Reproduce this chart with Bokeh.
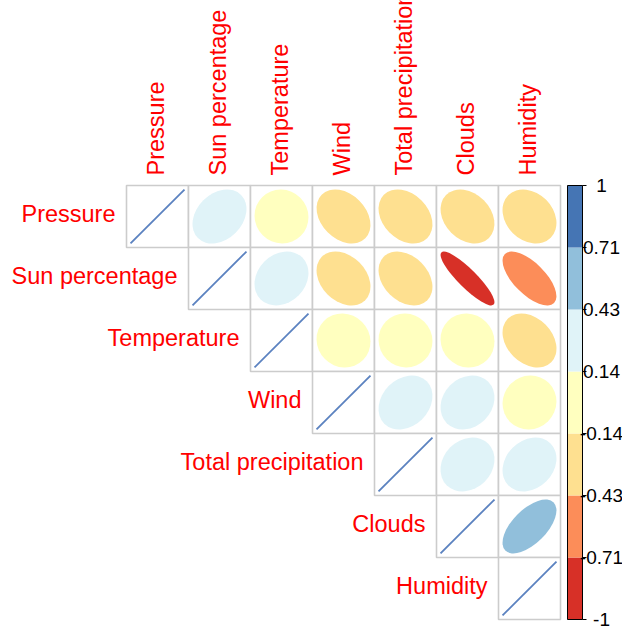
import numpy as np
from bokeh.plotting import figure
from bokeh.models import Range1d
from bokeh.embed import file_html
from bokeh.resources import INLINE
from bokeh.core.properties import value

# Weather variables and their correlation matrix (upper triangle used)
variables = ["Pressure", "Sun percentage", "Temperature", "Wind",
             "Total precipitation", "Clouds", "Humidity"]

pressure_r = [1.00, 0.28, -0.03, -0.31, -0.29, -0.27, -0.24]
sun_r = [0.28, 1.00, 0.20, -0.30, -0.31, -0.88, -0.66]
temperature_r = [-0.03, 0.20, 1.00, -0.05, -0.03, -0.05, -0.30]
wind_r = [-0.31, -0.30, -0.05, 1.00, 0.24, 0.18, 0.04]
precip_r = [-0.29, -0.31, -0.03, 0.24, 1.00, 0.19, 0.22]
clouds_r = [-0.27, -0.88, -0.05, 0.18, 0.19, 1.00, 0.60]
humidity_r = [-0.24, -0.66, -0.30, 0.04, 0.22, 0.60, 1.00]

corr = np.array([pressure_r, sun_r, temperature_r, wind_r,
                 precip_r, clouds_r, humidity_r])

# Diverging palette (RdYlBu, 7 classes) from -1 to 1
palette = ["#d73027", "#fc8d59", "#fee090", "#ffffbf",
           "#e0f3f8", "#91bfdb", "#4575b4"]
legend_labels = ["1", "0.71", "0.43", "0.14", "-0.14", "-0.43", "-0.71", "-1"]

n = len(variables)
cell_px = 62.0
left_px, top_px = 126.0, 185.0
W, H = 622, 626
label_font = "23.5px"


def color_for(r):
    k = int(np.floor((r + 1) / 2 * len(palette)))
    return palette[min(max(k, 0), len(palette) - 1)]


p = figure(width=W, height=H, output_backend="svg", toolbar_location=None,
           x_range=Range1d(-left_px / cell_px, (W - left_px) / cell_px),
           y_range=Range1d((H - top_px) / cell_px, -top_px / cell_px),
           min_border=0, outline_line_color=None)
p.axis.visible = False
p.grid.visible = False
p.background_fill_color = "white"
p.border_fill_color = "white"

# cell frames for the upper triangle incl. diagonal
cx, cy = [], []
for i in range(n):
    for j in range(i, n):
        cx.append(j + 0.5)
        cy.append(i + 0.5)
p.rect(x=cx, y=cy, width=1, height=1, fill_color="white",
       line_color="#cccccc", line_width=1.6)

# ellipses for off-diagonal correlations
scale = 0.87
ex, ey, ew, eh, ec = [], [], [], [], []
for i in range(n):
    for j in range(i + 1, n):
        r = corr[i, j]
        ex.append(j + 0.5)
        ey.append(i + 0.5)
        ew.append(scale * np.sqrt(1 + r))
        eh.append(scale * np.sqrt(1 - r))
        ec.append(color_for(r))
p.ellipse(x=ex, y=ey, width=ew, height=eh, angle=np.pi / 4,
          fill_color=ec, line_color=None)

# diagonal: perfect correlation collapses to a line
half = scale / 2
x0 = [i + 0.5 - half for i in range(n)]
x1 = [i + 0.5 + half for i in range(n)]
y0 = [i + 0.5 + half for i in range(n)]
y1 = [i + 0.5 - half for i in range(n)]
p.segment(x0=x0, y0=y0, x1=x1, y1=y1, line_color="#5b82c0", line_width=1.8)

# row labels
gap = 11 / cell_px
p.text(x=[i - gap for i in range(n)],
       y=[i + 0.5 - 3 / cell_px for i in range(n)],
       text=variables, text_align="right", text_baseline="middle",
       text_color="#ff0000", text_font=value("Liberation Sans"),
       text_font_size=label_font)

# column labels
p.text(x=[j + 0.5 - 2 / cell_px for j in range(n)], y=[-10 / cell_px] * n,
       text=variables, angle=np.pi / 2, text_align="left",
       text_baseline="middle", text_color="#ff0000",
       text_font=value("Liberation Sans"), text_font_size=label_font)

# colour legend
bar_l = (567 - left_px) / cell_px
bar_r = (582 - left_px) / cell_px
nb = len(palette)
bin_h = n / nb
p.quad(left=[bar_l] * nb, right=[bar_r] * nb,
       top=[(nb - 1 - k) * bin_h for k in range(nb)],
       bottom=[(nb - k) * bin_h for k in range(nb)],
       fill_color=palette, line_color=None)
p.quad(left=[bar_l], right=[bar_r], top=[0], bottom=[n],
       fill_color=None, line_color="black", line_width=1)
ticks = list(np.linspace(0, n, len(legend_labels)))
p.segment(x0=[bar_r] * len(ticks), x1=[bar_r + 4 / cell_px] * len(ticks),
          y0=ticks, y1=ticks, line_color="black", line_width=1)
p.text(x=[(601 - left_px) / cell_px] * len(ticks), y=ticks,
       text=legend_labels, text_align="center", text_baseline="middle",
       text_color="black", text_font=value("Liberation Sans"),
       text_font_size="19px")

open("out.html", "w").write(file_html(p, INLINE))
